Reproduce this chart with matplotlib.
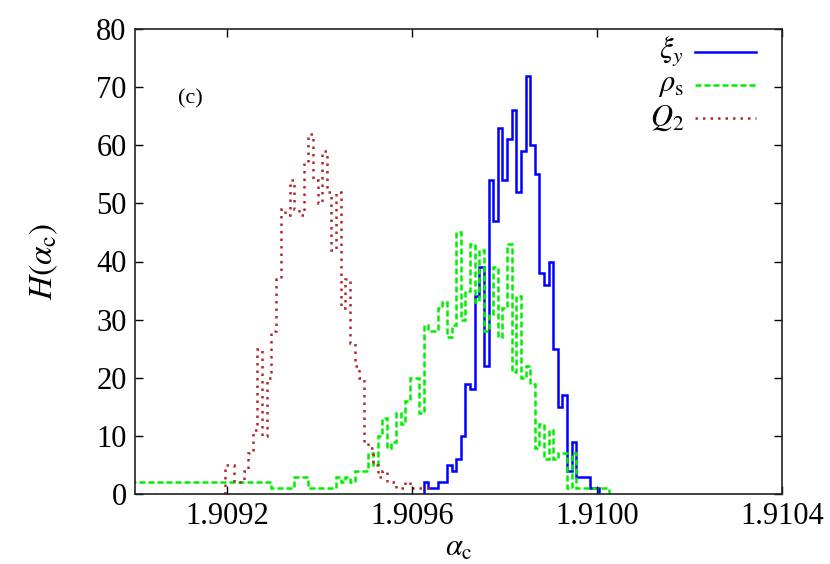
import numpy as np
import matplotlib
matplotlib.use('Agg')
import matplotlib.pyplot as plt

plt.rcParams['font.family'] = ['Liberation Serif', 'DejaVu Serif']
plt.rcParams['mathtext.fontset'] = 'stix'

# histogram grid (alpha_c)
bin_origin = 1.909625
bin_width = 0.00001

# xi_y histogram (blue, solid)
xi_first_bin = 0
xi_y = [2, 1, 1, 2, 2, 5, 4, 6, 10, 19, 18, 34, 39, 22, 54, 47, 63, 54, 61, 66,
        52, 59, 72, 60, 55, 38, 36, 40, 25, 15, 17, 4, 9, 3, 3, 3, 1, 1]

# rho_s histogram (green, dashed)
rho_first_bin = -63
rho_s = ([2] * 30 + [1] * 5 + [3] * 3 + [1] * 6 + [3, 2, 3, 2, 4, 4, 4] +
         [7, 5, 10, 13, 8, 9, 14, 12, 16, 20, 20, 14,
          29, 28, 28, 32, 33, 27, 29, 45, 30, 35, 43, 33, 42, 28, 31, 39, 27, 32,
          43, 21, 34, 20, 22, 19, 8, 12, 6, 11, 6, 7, 7, 1, 7, 1, 1, 1, 1, 1, 1, 1])

# Q_2 histogram (brown, dotted)
q2_first_bin = -43
q2 = [5, 5, 2, 2, 4, 7, 11, 25, 10, 20, 28, 37, 49, 48, 54, 49, 48, 57, 62, 54,
      50, 59, 52, 42, 52, 32, 37, 26, 22, 20, 9, 8, 5, 3, 4, 2, 2, 1, 1, 2, 1, 1, 1, 1]

x_ticks = [1.9092, 1.9096, 1.9100, 1.9104]
x_tick_labels = ['1.9092', '1.9096', '1.9100', '1.9104']
y_ticks = [0, 10, 20, 30, 40, 50, 60, 70, 80]
legend_labels = [r'$\xi_y$', r'$\rho_{\rm s}$', r'$Q_2$']

colors = ['#0000ff', '#00ee00', '#b22a2a']
styles = ['-', (0, (2.4, 1.2)), (0, (1, 2.0))]
lw = 1.8


def edges(first, n):
    return bin_origin + (first + np.arange(n + 1)) * bin_width


fig = plt.figure(figsize=(8.3, 5.64), dpi=100)
ax = fig.add_axes([135 / 830, 70 / 564, 647 / 830, 465 / 564])

series = [(xi_first_bin, xi_y), (rho_first_bin, rho_s), (q2_first_bin, q2)]
for (first, vals), c, ls in zip(series, colors, styles):
    ax.stairs(vals, edges(first, len(vals)), color=c, linestyle=ls, linewidth=lw)

ax.set_xlim(1.9090, 1.9104)
ax.set_ylim(0, 80)
ax.set_xticks(x_ticks)
ax.set_xticklabels(x_tick_labels)
ax.set_yticks(y_ticks)
ax.tick_params(direction='in', length=6, width=1, top=True, right=True,
               labelsize=22, pad=6)
for s in ax.spines.values():
    s.set_linewidth(1.2)
    s.set_color('#222222')

ax.set_xlabel(r'$\alpha_{\rm c}$', fontsize=22, labelpad=2)
ax.set_ylabel(r'$H(\alpha_{\rm c})$', fontsize=24, labelpad=26)

ax.text(0.085, 0.85, '(c)', transform=ax.transAxes, fontsize=16,
        ha='center', va='center')

# legend (text right-aligned, sample to the right)
rows = [0.9505, 0.8796, 0.8086]
for lab, c, ls, yy in zip(legend_labels, colors, styles, rows):
    ax.text(0.8485, yy, lab, transform=ax.transAxes, fontsize=22,
            ha='right', va='center')
    ax.plot([0.8655, 0.9598], [yy, yy], transform=ax.transAxes, color=c,
            linestyle=ls, linewidth=lw)

fig.savefig('out.png', dpi=100)
